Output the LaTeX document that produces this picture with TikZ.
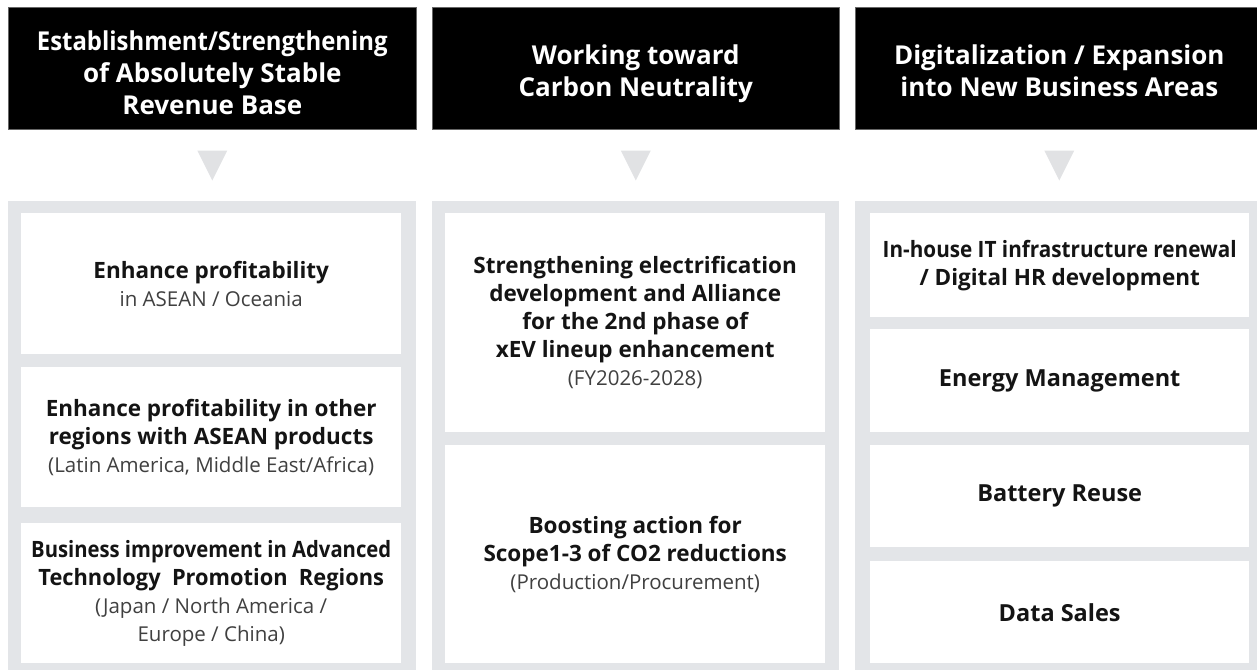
\documentclass[tikz,border=0pt]{standalone}
\usepackage{fontspec}
\setmainfont{Open Sans}
\usetikzlibrary{calc}
\definecolor{panelgrey}{HTML}{E3E5E8}
\definecolor{trigrey}{HTML}{E1E2E4}
\definecolor{subgrey}{HTML}{404040}
\definecolor{maintext}{HTML}{141414}
\newcommand{\subl}[1]{{\fontsize{20.5}{28}\selectfont\mdseries\color{subgrey}#1}}
\newcommand{\squeeze}[2]{\scalebox{#1}[1]{#2}}
\begin{document}
\begin{tikzpicture}[x=1pt,y=-1pt,
  head/.style={fill=black, draw=black!60, line width=0.6pt, anchor=north west, inner sep=0pt},
  headtext/.style={inner sep=0pt, text=white, align=center, font=\fontsize{26}{32}\selectfont\bfseries},
  panel/.style={fill=panelgrey, anchor=north west, inner sep=0pt},
  cell/.style={fill=white, anchor=north west, inner sep=0pt, align=center, text=maintext,
    font=\fontsize{22.5}{28}\selectfont\bfseries},
  bigcell/.style={cell, font=\fontsize{23.5}{28}\selectfont\bfseries},
  tri/.style={fill=trigrey}
]
\useasboundingbox (0,0) rectangle (1257,671);

% headers
\node[head, minimum width=408pt, minimum height=122pt] (h1) at (8,7) {};
\node[head, minimum width=407pt, minimum height=122pt] (h2) at (432,7) {};
\node[head, minimum width=408pt, minimum height=122pt] (h3) at (855,7) {};
\node[headtext] (h1t) at ($(h1.center)+(0,4)$)
  {\squeeze{0.92}{Establishment/Strengthening}\\of Absolutely Stable\\Revenue Base};
\node[headtext] (h2t) at ($(h2.center)+(0,5)$)
  {Working toward\\Carbon Neutrality};
\node[headtext] (h3t) at ($(h3.center)+(0,2)$)
  {Digitalization / Expansion\\into New Business Areas};

% triangles
\foreach \h in {h1,h2,h3}{
  \fill[tri] ($(\h.south)+(-15,21)$) -- ($(\h.south)+(15,21)$) -- ($(\h.south)+(0,51)$) -- cycle;
}

% panels
\node[panel, minimum width=408pt, minimum height=469pt] (p1) at (8,201) {};
\node[panel, minimum width=407pt, minimum height=469pt] (p2) at (432,201) {};
\node[panel, minimum width=408pt, minimum height=469pt] (p3) at (855,201) {};

% column 1 cells
\node[cell, minimum width=380pt, minimum height=141pt] (a1) at (21,213)
  {Enhance profitability\\\subl{in ASEAN / Oceania}};
\node[cell, minimum width=380pt, minimum height=140pt] (a2) at (21,367)
  {Enhance profitability in other\\regions with ASEAN products\\\subl{(Latin America, Middle East/Africa)}};
\node[cell, minimum width=380pt, minimum height=140pt] (a3) at (21,523)
  {\squeeze{0.9}{Business improvement in Advanced}\\\squeeze{0.97}{Technology\ \ Promotion\ \ Regions}\\\subl{(Japan / North America /}\\\subl{Europe / China)}};

% column 2 cells
\node[cell, minimum width=380pt, minimum height=219pt] (b1) at (445,213)
  {Strengthening electrification\\development and Alliance\\for the 2nd phase of\\xEV lineup enhancement\\\subl{(FY2026-2028)}};
\node[cell, minimum width=380pt, minimum height=218pt] (b2) at (445,445)
  {Boosting action for\\Scope1-3 of CO2 reductions\\\subl{(Production/Procurement)}};

% column 3 cells
\node[cell, minimum width=379pt, minimum height=104pt] (c1) at (870,213)
  {\squeeze{0.92}{In-house IT infrastructure renewal}\\/ Digital HR development};
\node[bigcell, minimum width=379pt, minimum height=103pt] (c2) at (870,329)
  {Energy Management};
\node[bigcell, minimum width=379pt, minimum height=102pt] (c3) at (870,445)
  {Battery Reuse};
\node[bigcell, minimum width=379pt, minimum height=102pt] (c4) at (870,561)
  {Data Sales};
\end{tikzpicture}
\end{document}
